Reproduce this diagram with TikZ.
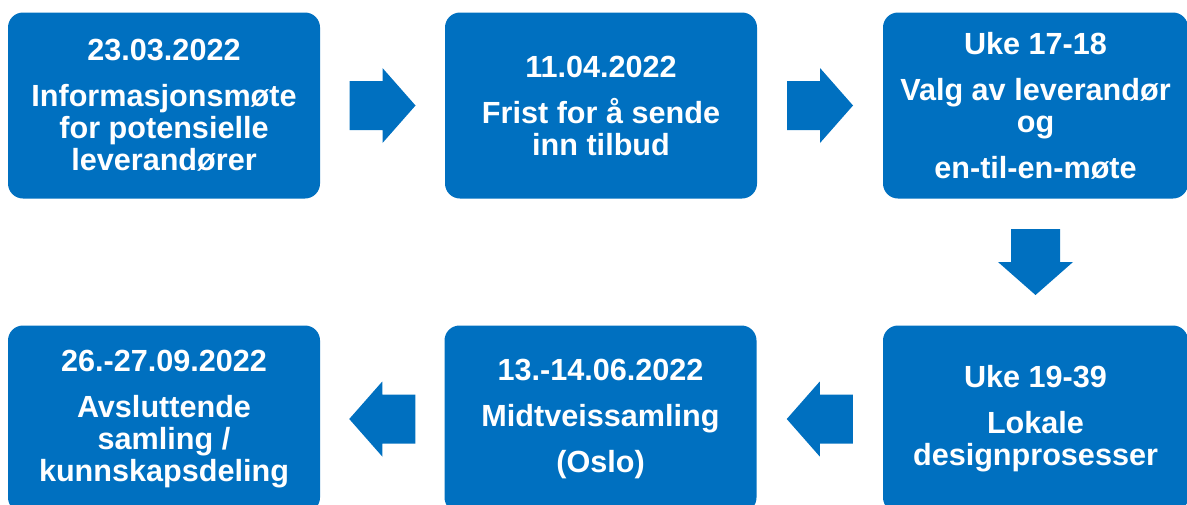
\documentclass[tikz,border=0pt]{standalone}
\usepackage{fontspec}
\setmainfont{Liberation Sans}
\usetikzlibrary{calc}
\definecolor{boxblue}{HTML}{0070C0}

\begin{document}
\begin{tikzpicture}[x=0.5pt,y=-0.5pt,
    stepbox/.style={fill=boxblue,rounded corners=7.5pt,text=white,
      minimum width=156pt,minimum height=93pt,inner sep=0pt,align=center,
      font=\fontsize{15.3}{16}\selectfont\bfseries},
    blockarrow/.pic={\fill[boxblue] (-33,-24.5) -- (0,-24.5) -- (0,-37.5) -- (33,0)
      -- (0,37.5) -- (0,24.5) -- (-33,24.5) -- cycle;}]
  \clip (0,0) rectangle (1187,504);
  \node[stepbox] (info) at (164,105.5) {23.03.2022\\[7pt]Informasjonsmøte\\for potensielle\\leverandører};
  \node[stepbox] (frist) at (601,105.5) {11.04.2022\\[7pt]Frist for å sende\\inn tilbud};
  \node[stepbox,minimum width=152.5pt] (valg) at (1035.5,105.5) {Uke 17-18\\[7pt]Valg av leverandør\\og\\[7pt]en-til-en-møte};
  \node[stepbox,minimum width=152.5pt,minimum height=93.5pt] (lokal) at (1035.5,419) {Uke 19-39\\[7pt]Lokale\\designprosesser};
  \node[stepbox,minimum height=93.5pt] (midt) at (600.5,419) {13.-14.06.2022\\[7pt]Midtveissamling\\[7pt](Oslo)};
  \node[stepbox,minimum height=93.5pt] (slutt) at (164,419) {26.-27.09.2022\\[7pt]Avsluttende\\samling /\\kunnskapsdeling};
  % arrows between the steps
  \pic at ($(info.east)!0.5!(frist.west)$) {blockarrow};
  \pic at ($(frist.east)!0.5!(valg.west)$) {blockarrow};
  \pic[rotate=-90] at ($(valg.south)!0.5!(lokal.north)$) {blockarrow};
  \pic[rotate=180] at ($(lokal.west)!0.5!(midt.east)$) {blockarrow};
  \pic[rotate=180] at ($(midt.west)!0.5!(slutt.east)$) {blockarrow};
\end{tikzpicture}
\end{document}
